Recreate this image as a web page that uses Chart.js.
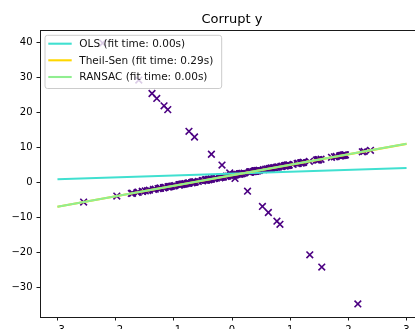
<!DOCTYPE html>
<html>
<head>
<meta charset="utf-8">
<script src="https://cdn.jsdelivr.net/npm/chart.js@4/dist/chart.umd.min.js"></script>
<style>
  html, body { margin: 0; padding: 0; background: #ffffff; }
  #frame { width: 415px; height: 329px; overflow: hidden; position: relative; }
  canvas { display: block; }
</style>
</head>
<body>
<div id="frame"><canvas id="chart" width="465" height="345"></canvas></div>
<script>
// Sample x positions (first 180 follow y = 3x + 2, last 20 are corrupted)
const sampleX = [
  1.76, 0.40, 0.98, 2.24, 1.87, -0.98, 0.95, -0.15, -0.10, 0.41,
  0.14, 1.45, 0.76, 0.12, 0.44, 0.33, 1.49, -0.21, 0.31, -0.85,
  -2.55, 0.65, 0.86, -0.74, 2.27, -1.45, 0.05, -0.19, 1.53, 1.47,
  0.15, 0.38, -0.89, -1.98, -0.35, 0.16, 1.23, 1.20, -0.39, -0.30,
  -1.05, -1.42, -1.71, 1.95, -0.51, -0.44, -1.25, 0.78, -1.61, -0.21,
  -0.90, 0.39, -0.51, -1.18, -0.03, 0.43, 0.07, 0.30, -0.63, -0.36,
  -0.67, -0.36, -0.81, -1.73, 0.18, -0.40, -1.63, 0.46, -0.91, 0.05,
  0.73, 0.13, 1.14, -1.23, 0.40, -0.68, -0.87, -0.58, -0.31, 0.06,
  -1.17, 0.90, 0.47, -1.54, 1.49, 1.90, 1.18, -0.18, -1.07, 1.05,
  -0.40, 1.22, 0.21, 0.98, 0.36, 0.71, 0.01, 1.79, 0.13, 0.40,
  1.88, -1.35, -1.27, 0.97, -1.17, 1.94, -0.41, -0.75, 1.92, 1.48,
  1.87, 0.91, -0.86, 1.91, -0.27, 0.80, 0.95, -0.16, 0.61, 0.92,
  0.38, -1.10, 0.30, 1.33, -0.69, -0.15, -0.44, 1.85, 0.67, 0.41,
  -0.77, 0.54, -0.67, 0.03, -0.64, 0.68, 0.58, -0.21, 0.40, -1.09,
  -1.49, 0.44, 0.17, 0.64, 2.38, 0.94, -0.91, 1.12, -1.32, -0.46,
  -0.07, 1.71, -0.74, -0.83, -0.10, -0.66, 1.13, -1.08, -1.15, -0.44,
  -0.50, 1.93, 0.95, 0.09, -1.23, 0.84, -1.00, -1.54, 1.19, 0.32,
  0.92, 0.32, 0.86, -0.65, -1.03, 0.68, -0.80, -0.69, -0.46, 0.02,
  -0.354, -1.375, -0.644, -2.223, 0.625, -1.602, -1.104, 0.052, -0.740, 1.543,
  -1.293, 0.267, -0.039, -1.168, 0.523, -0.172, 0.772, 0.824, 2.163, 1.337
];
const sampleY = [
  7.28, 3.20, 4.94, 8.72, 7.61, -0.94, 4.85, 1.55, 1.70, 3.23,
  2.42, 6.35, 4.28, 2.36, 3.32, 2.99, 6.47, 1.37, 2.93, -0.55,
  -5.65, 3.95, 4.58, -0.22, 8.81, -2.35, 2.15, 1.43, 6.59, 6.41,
  2.45, 3.14, -0.67, -3.94, 0.95, 2.48, 5.69, 5.60, 0.83, 1.10,
  -1.15, -2.26, -3.13, 7.85, 0.47, 0.68, -1.75, 4.34, -2.83, 1.37,
  -0.70, 3.17, 0.47, -1.54, 1.91, 3.29, 2.21, 2.90, 0.11, 0.92,
  -0.01, 0.92, -0.43, -3.19, 2.54, 0.80, -2.89, 3.38, -0.73, 2.15,
  4.19, 2.39, 5.42, -1.69, 3.20, -0.04, -0.61, 0.26, 1.07, 2.18,
  -1.51, 4.70, 3.41, -2.62, 6.47, 7.70, 5.54, 1.46, -1.21, 5.15,
  0.80, 5.66, 2.63, 4.94, 3.08, 4.13, 2.03, 7.37, 2.39, 3.20,
  7.64, -2.05, -1.81, 4.91, -1.51, 7.82, 0.77, -0.25, 7.76, 6.44,
  7.61, 4.73, -0.58, 7.73, 1.19, 4.40, 4.85, 1.52, 3.83, 4.76,
  3.14, -1.30, 2.90, 5.99, -0.07, 1.55, 0.68, 7.55, 4.01, 3.23,
  -0.31, 3.62, -0.01, 2.09, 0.08, 4.04, 3.74, 1.37, 3.20, -1.27,
  -2.47, 3.32, 2.51, 3.92, 9.14, 4.82, -0.73, 5.36, -1.96, 0.62,
  1.79, 7.13, -0.22, -0.49, 1.70, 0.02, 5.39, -1.24, -1.45, 0.68,
  0.50, 7.79, 4.85, 2.27, -1.69, 4.52, -1.00, -2.62, 5.57, 2.96,
  4.76, 2.96, 4.58, 0.05, -1.09, 4.04, -0.40, -0.07, 0.62, 2.06,
  8.02, 25.38, 12.95, 39.80, -8.63, 29.23, 20.77, 1.11, 14.58, -24.23,
  23.98, -2.54, 2.67, 21.86, -6.89, 4.92, -11.12, -12.01, -34.77, -20.72
];

// Fitted lines, evaluated at the two ends of the plotted x span
const lineX = [-3, 3];
const olsY = [0.86, 4.09];
const theilSenY = [-6.99, 10.99];
const ransacY = [-7.00, 11.02];

const seriesNames = ['OLS (fit time: 0.00s)', 'Theil-Sen (fit time: 0.29s)', 'RANSAC (fit time: 0.00s)'];
const seriesColors = ['#40e0d0', '#ffd700', '#90ee90'];

const xTicks = [-3, -2, -1, 0, 1, 2, 3];
const yTicks = [-30, -20, -10, 0, 10, 20, 30, 40];

const FONT = "'DejaVu Sans', 'Liberation Sans', sans-serif";
const toPts = (xs, ys) => xs.map((x, i) => ({ x: x, y: ys[i] }));
const fmt = v => (v < 0 ? '\u2212' + Math.abs(v) : String(v));

// Frame on top/right of the axes plus an in-plot legend box
const framePlugin = {
  id: 'frameAndLegend',
  afterDraw(chart) {
    const { ctx, chartArea: a } = chart;
    ctx.save();
    ctx.strokeStyle = '#1a1a1a';
    ctx.lineWidth = 1;
    ctx.beginPath();
    ctx.moveTo(a.left, a.top + 0.5);
    ctx.lineTo(a.right, a.top + 0.5);
    ctx.moveTo(a.right - 0.5, a.top);
    ctx.lineTo(a.right - 0.5, a.bottom);
    ctx.stroke();

    // legend
    ctx.font = '10.5px ' + FONT;
    let maxW = 0;
    seriesNames.forEach(n => { maxW = Math.max(maxW, ctx.measureText(n).width); });
    const bx = a.left + 5, by = a.top + 5.3;
    const textX = bx + 34.3;
    const bw = textX - bx + maxW + 8.4;
    const bh = 53.2;
    const r = 2.5;
    ctx.beginPath();
    ctx.moveTo(bx + r, by);
    ctx.lineTo(bx + bw - r, by);
    ctx.quadraticCurveTo(bx + bw, by, bx + bw, by + r);
    ctx.lineTo(bx + bw, by + bh - r);
    ctx.quadraticCurveTo(bx + bw, by + bh, bx + bw - r, by + bh);
    ctx.lineTo(bx + r, by + bh);
    ctx.quadraticCurveTo(bx, by + bh, bx, by + bh - r);
    ctx.lineTo(bx, by + r);
    ctx.quadraticCurveTo(bx, by, bx + r, by);
    ctx.closePath();
    ctx.fillStyle = 'rgba(255,255,255,0.8)';
    ctx.fill();
    ctx.strokeStyle = '#cccccc';
    ctx.lineWidth = 1;
    ctx.stroke();

    const rowY = [by + 8.4, by + 25.0, by + 41.7];
    seriesNames.forEach((n, i) => {
      ctx.strokeStyle = seriesColors[i];
      ctx.lineWidth = 2.1;
      ctx.beginPath();
      ctx.moveTo(bx + 3.3, rowY[i]);
      ctx.lineTo(bx + 26.7, rowY[i]);
      ctx.stroke();
      ctx.fillStyle = '#111111';
      ctx.textBaseline = 'middle';
      ctx.textAlign = 'left';
      ctx.fillText(n, textX, rowY[i] + 0.5);
    });
    ctx.restore();
  }
};

new Chart(document.getElementById('chart'), {
  type: 'scatter',
  data: {
    datasets: [
      {
        label: 'samples',
        data: toPts(sampleX, sampleY),
        pointStyle: 'crossRot',
        pointRadius: 4.7,
        pointHoverRadius: 4.7,
        borderColor: '#4b0082',
        backgroundColor: '#4b0082',
        pointBorderWidth: 1.6,
        borderWidth: 1.6,
        order: 10
      },
      {
        label: seriesNames[0],
        data: toPts(lineX, olsY),
        showLine: true,
        borderColor: seriesColors[0],
        backgroundColor: seriesColors[0],
        borderWidth: 2.1,
        pointRadius: 0,
        order: 3
      },
      {
        label: seriesNames[1],
        data: toPts(lineX, theilSenY),
        showLine: true,
        borderColor: seriesColors[1],
        backgroundColor: seriesColors[1],
        borderWidth: 2.1,
        pointRadius: 0,
        order: 2
      },
      {
        label: seriesNames[2],
        data: toPts(lineX, ransacY),
        showLine: true,
        borderColor: seriesColors[2],
        backgroundColor: seriesColors[2],
        borderWidth: 2.1,
        pointRadius: 0,
        order: 1
      }
    ]
  },
  options: {
    responsive: false,
    animation: false,
    devicePixelRatio: 1,
    layout: { padding: { left: 0, right: 41, top: 0, bottom: 0 } },
    plugins: {
      legend: { display: false },
      tooltip: { enabled: false },
      title: {
        display: true,
        text: 'Corrupt y',
        fullSize: false,
        color: '#000000',
        font: { family: FONT, size: 13, weight: 'normal', lineHeight: 1.2 },
        padding: { top: 11.5, bottom: 2.9 }
      }
    },
    scales: {
      x: {
        type: 'linear',
        min: -3.3,
        max: 3.3,
        afterBuildTicks: s => { s.ticks = xTicks.map(v => ({ value: v })); },
        afterFit: s => { s.height = 28; },
        grid: { drawOnChartArea: false, drawTicks: true, tickLength: 3.5, tickColor: '#1a1a1a', tickWidth: 1 },
        border: { display: true, color: '#1a1a1a', width: 1 },
        ticks: {
          color: '#000000',
          font: { family: FONT, size: 10 },
          padding: 3.5,
          maxRotation: 0,
          callback: v => fmt(v)
        }
      },
      y: {
        type: 'linear',
        min: -38.5,
        max: 43.53,
        afterBuildTicks: s => { s.ticks = yTicks.map(v => ({ value: v })); },
        afterFit: s => { s.width = 40; },
        grid: { drawOnChartArea: false, drawTicks: true, tickLength: 3.5, tickColor: '#1a1a1a', tickWidth: 1 },
        border: { display: true, color: '#1a1a1a', width: 1 },
        ticks: {
          color: '#000000',
          font: { family: FONT, size: 10 },
          padding: 4,
          callback: v => fmt(v)
        }
      }
    }
  },
  plugins: [framePlugin]
});
</script>
</body>
</html>
